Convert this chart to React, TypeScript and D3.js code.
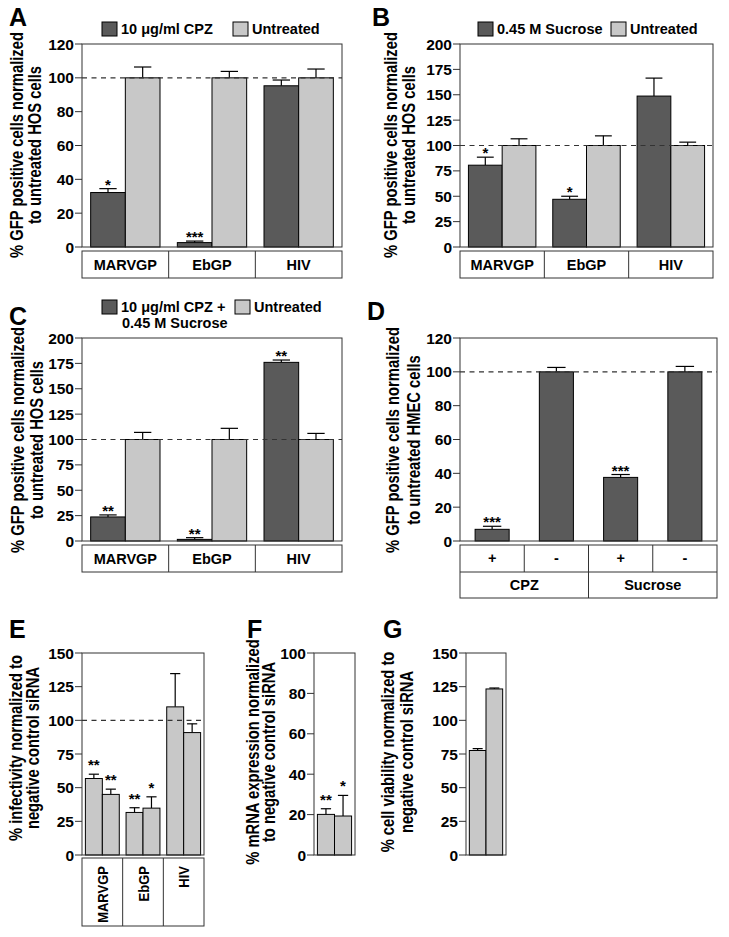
import React from "react";
import * as d3 from "d3";

const W = 729;
const H = 937;
const FONT = "'Liberation Sans', Arial, Helvetica, sans-serif";
const DARK = "#5a5a5a";
const LIGHT = "#c8c8c8";
const AXIS = "#333";

// ---------------- DATA ----------------
const virusGroups = ["MARVGP", "EbGP", "HIV"];

// Panel A
const cpzA = [32.2, 2.6, 95.3];
const cpzAErr = [2.3, 0.9, 3.4];
const untreatedA = [100, 100, 100];
const untreatedAErr = [6.4, 3.8, 5.2];
const starsA = ["*", "***", ""];
const ticksA = [0, 20, 40, 60, 80, 100, 120];

// Panel B
const sucroseB = [80.6, 47, 148.7];
const sucroseBErr = [7.9, 3, 17.7];
const untreatedB = [100, 100, 100];
const untreatedBErr = [6.6, 9.5, 3.3];
const starsB = ["*", "*", ""];
const ticks0to200 = [0, 25, 50, 75, 100, 125, 150, 175, 200];

// Panel C
const comboC = [23.7, 1.6, 176];
const comboCErr = [2, 1.7, 2.3];
const untreatedC = [100, 100, 100];
const untreatedCErr = [7, 11, 6];
const starsC = ["**", "**", "**"];

// Panel D
const hmecConditions = ["+", "-", "+", "-"];
const hmecTreatments = ["CPZ", "Sucrose"];
const hmecD = [6.9, 100, 37.6, 100];
const hmecDErr = [1.8, 2.6, 1.7, 3.2];
const starsD = ["***", "", "***", ""];
const ticks0to120 = [0, 20, 40, 60, 80, 100, 120];

// Panel E
const sirnaE = [56.8, 45, 31.6, 34.8, 110, 90.9];
const sirnaEErr = [3.2, 3.9, 3.5, 8.4, 24.7, 6.5];
const starsE = ["**", "**", "**", "*", "", ""];
const ticks0to150 = [0, 25, 50, 75, 100, 125, 150];

// Panel F
const mrnaF = [20.1, 19.3];
const mrnaFErr = [2.8, 10.2];
const starsF = ["**", "*"];
const ticks0to100 = [0, 20, 40, 60, 80, 100];

// Panel G
const viabilityG = [77.6, 123.3];
const viabilityGErr = [1.4, 0.7];
const starsG = ["", ""];

// ---------------- HELPERS ----------------
type BarSpec = { x: number; w: number; v: number; e: number; fill: string; star: string };

function Bars({ bars, y, starGap, capFrac }: { bars: BarSpec[]; y: d3.ScaleLinear<number, number>; starGap: number; capFrac: number }) {
  return (
    <g>
      {bars.map((b, i) => {
        const cx = b.x + b.w / 2;
        const top = y(b.v);
        const et = y(b.v + b.e);
        const cap = b.w * capFrac;
        return (
          <g key={i}>
            <line x1={cx} x2={cx} y1={top} y2={et} stroke="#000" strokeWidth={1.2} />
            <line x1={cx - cap} x2={cx + cap} y1={et} y2={et} stroke="#000" strokeWidth={1.2} />
            <rect x={b.x} y={top} width={b.w} height={y(0) - top} fill={b.fill} stroke="#000" strokeWidth={1} />
            {b.star && (
              <text x={cx} y={et + starGap} textAnchor="middle" fontSize={15} fontWeight="bold">
                {b.star}
              </text>
            )}
          </g>
        );
      })}
    </g>
  );
}

function Frame({ x0, x1, y, ticks, refLine }: { x0: number; x1: number; y: d3.ScaleLinear<number, number>; ticks: number[]; refLine: boolean }) {
  const [yb, yt] = y.range();
  return (
    <g>
      <rect x={x0} y={yt} width={x1 - x0} height={yb - yt} fill="none" stroke={AXIS} strokeWidth={1} />
      {refLine && (
        <line x1={x0} x2={x1} y1={y(100)} y2={y(100)} stroke="#333" strokeWidth={1.2} strokeDasharray="5,4.5" />
      )}
      {ticks.map((t) => (
        <g key={t}>
          <line x1={x0 - 7} x2={x0} y1={y(t)} y2={y(t)} stroke={AXIS} strokeWidth={1} />
          <text x={x0 - 8} y={y(t) + 5.5} textAnchor="end" fontSize={15.5} fontWeight="bold">
            {t}
          </text>
        </g>
      ))}
    </g>
  );
}

function YLabel({ x1, x2, cy, lines }: { x1: number; x2: number; cy: number; lines: string[] }) {
  return (
    <g fontSize={18} fontWeight="bold">
      <text transform={`translate(${x1},${cy}) rotate(-90) scale(0.82,1)`} textAnchor="middle">
        {lines[0]}
      </text>
      <text transform={`translate(${x2},${cy}) rotate(-90) scale(0.82,1)`} textAnchor="middle">
        {lines[1]}
      </text>
    </g>
  );
}

function Letter({ x, y, t }: { x: number; y: number; t: string }) {
  return (
    <text x={x} y={y} fontSize={25} fontWeight="bold">
      {t}
    </text>
  );
}

function CategoryBox({ x, y0, y1, labels }: { x: d3.ScaleBand<string>; y0: number; y1: number; labels: string[] }) {
  const [r0, r1] = x.range();
  return (
    <g>
      <rect x={r0} y={y0} width={r1 - r0} height={y1 - y0} fill="none" stroke={AXIS} strokeWidth={1} />
      {labels.map((l, i) => (
        <g key={l}>
          {i > 0 && <line x1={x(l)!} x2={x(l)!} y1={y0} y2={y1} stroke={AXIS} strokeWidth={1} />}
          <text x={x(l)! + x.bandwidth() / 2} y={(y0 + y1) / 2 + 5} textAnchor="middle" fontSize={14.5} fontWeight="bold">
            {l}
          </text>
        </g>
      ))}
    </g>
  );
}

function LegendItem({ x, y, fill, lines }: { x: number; y: number; fill: string; lines: string[] }) {
  return (
    <g>
      <rect x={x} y={y} width={15} height={14} fill={fill} stroke="#000" strokeWidth={1} />
      {lines.map((l, i) => (
        <text key={i} x={x + 19} y={y + 12 + i * 16} fontSize={14.5} fontWeight="bold">
          {l}
        </text>
      ))}
    </g>
  );
}

function pairBars(
  xg: d3.ScaleBand<string>,
  darkVals: number[],
  darkErr: number[],
  lightVals: number[],
  lightErr: number[],
  stars: string[],
  darkFill: string,
  lightFill: string
): BarSpec[] {
  const sub = d3.scaleBand().domain(["t", "u"]).range([0, xg.bandwidth()]).paddingOuter(0.25).paddingInner(0);
  const out: BarSpec[] = [];
  xg.domain().forEach((g, i) => {
    out.push({ x: xg(g)! + sub("t")!, w: sub.bandwidth(), v: darkVals[i], e: darkErr[i], fill: darkFill, star: stars[i] });
    out.push({ x: xg(g)! + sub("u")!, w: sub.bandwidth(), v: lightVals[i], e: lightErr[i], fill: lightFill, star: "" });
  });
  return out;
}

// ---------------- APP ----------------
export default function App() {
  // Panel A
  const xA = d3.scaleBand().domain(virusGroups).range([82, 342]);
  const yA = d3.scaleLinear().domain([0, 120]).range([247, 44]);
  const barsA = pairBars(xA, cpzA, cpzAErr, untreatedA, untreatedAErr, starsA, DARK, LIGHT);

  // Panel B
  const xB = d3.scaleBand().domain(virusGroups).range([460, 713]);
  const yB = d3.scaleLinear().domain([0, 200]).range([247, 44]);
  const barsB = pairBars(xB, sucroseB, sucroseBErr, untreatedB, untreatedBErr, starsB, DARK, LIGHT);

  // Panel C
  const xC = d3.scaleBand().domain(virusGroups).range([82, 342]);
  const yC = d3.scaleLinear().domain([0, 200]).range([541, 338]);
  const barsC = pairBars(xC, comboC, comboCErr, untreatedC, untreatedCErr, starsC, DARK, LIGHT);

  // Panel D
  const dKeys = hmecConditions.map((c, i) => `${i}`);
  const xD = d3.scaleBand().domain(dKeys).range([460, 717]).paddingInner(0.47).paddingOuter(0.235);
  const xDcell = d3.scaleBand().domain(dKeys).range([460, 717]);
  const xDtreat = d3.scaleBand().domain(hmecTreatments).range([460, 717]);
  const yD = d3.scaleLinear().domain([0, 120]).range([541, 338]);
  const barsD: BarSpec[] = hmecD.map((v, i) => ({ x: xD(dKeys[i])!, w: xD.bandwidth(), v, e: hmecDErr[i], fill: DARK, star: starsD[i] }));

  // Panel E
  const xE = d3.scaleBand().domain(virusGroups).range([82, 204]);
  const subE = d3.scaleBand().domain(["a", "b"]).range([0, xE.bandwidth()]).paddingOuter(0.2).paddingInner(0);
  const yE = d3.scaleLinear().domain([0, 150]).range([855, 653]);
  const barsE: BarSpec[] = sirnaE.map((v, i) => {
    const g = virusGroups[Math.floor(i / 2)];
    return { x: xE(g)! + subE(i % 2 === 0 ? "a" : "b")!, w: subE.bandwidth(), v, e: sirnaEErr[i], fill: LIGHT, star: starsE[i] };
  });

  // Panel F
  const xF = d3.scaleBand().domain(["a", "b"]).range([314, 355]).paddingOuter(0.2).paddingInner(0);
  const yF = d3.scaleLinear().domain([0, 100]).range([855, 653]);
  const barsF: BarSpec[] = mrnaF.map((v, i) => ({ x: xF(i === 0 ? "a" : "b")!, w: xF.bandwidth(), v, e: mrnaFErr[i], fill: LIGHT, star: starsF[i] }));

  // Panel G
  const xG = d3.scaleBand().domain(["a", "b"]).range([466, 506]).paddingOuter(0.2).paddingInner(0);
  const yG = d3.scaleLinear().domain([0, 150]).range([855, 653]);
  const barsG: BarSpec[] = viabilityG.map((v, i) => ({ x: xG(i === 0 ? "a" : "b")!, w: xG.bandwidth(), v, e: viabilityGErr[i], fill: LIGHT, star: starsG[i] }));

  const labelHOS = ["% GFP positive cells normalized", "to untreated HOS cells"];

  return (
    <svg width={W} height={H} style={{ position: "absolute", left: 0, top: 0, background: "#fff" }} fontFamily={FONT}>
      <rect x={0} y={0} width={W} height={H} fill="#fff" />

      {/* Panel A */}
      <Letter x={9} y={26} t="A" />
      <LegendItem x={102} y={22} fill={DARK} lines={["10 μg/ml CPZ"]} />
      <LegendItem x={233} y={22} fill={LIGHT} lines={["Untreated"]} />
      <YLabel x1={23} x2={41} cy={145} lines={labelHOS} />
      <Bars bars={barsA} y={yA} starGap={1} capFrac={0.25} />
      <Frame x0={82} x1={342} y={yA} ticks={ticksA} refLine />
      <CategoryBox x={xA} y0={251} y1={278} labels={virusGroups} />

      {/* Panel B */}
      <Letter x={372} y={26} t="B" />
      <LegendItem x={478} y={22} fill={DARK} lines={["0.45 M Sucrose"]} />
      <LegendItem x={611} y={22} fill={LIGHT} lines={["Untreated"]} />
      <YLabel x1={397} x2={415} cy={145} lines={labelHOS} />
      <Bars bars={barsB} y={yB} starGap={1} capFrac={0.25} />
      <Frame x0={460} x1={713} y={yB} ticks={ticks0to200} refLine />
      <CategoryBox x={xB} y0={251} y1={278} labels={virusGroups} />

      {/* Panel C */}
      <Letter x={9} y={325} t="C" />
      <LegendItem x={102} y={300} fill={DARK} lines={["10 μg/ml CPZ +"]} />
      <text x={122} y={328} fontSize={14.5} fontWeight="bold">0.45 M Sucrose</text>
      <LegendItem x={235} y={300} fill={LIGHT} lines={["Untreated"]} />
      <YLabel x1={24} x2={43} cy={440} lines={labelHOS} />
      <Bars bars={barsC} y={yC} starGap={1} capFrac={0.25} />
      <Frame x0={82} x1={342} y={yC} ticks={ticks0to200} refLine />
      <CategoryBox x={xC} y0={545} y1={572} labels={virusGroups} />

      {/* Panel D */}
      <Letter x={367} y={320} t="D" />
      <YLabel x1={399} x2={420} cy={440} lines={["% GFP positive cells normalized", "to untreated HMEC cells"]} />
      <Bars bars={barsD} y={yD} starGap={1} capFrac={0.27} />
      <Frame x0={460} x1={717} y={yD} ticks={ticks0to120} refLine />
      <g>
        <rect x={460} y={545} width={257} height={53} fill="none" stroke={AXIS} strokeWidth={1} />
        <line x1={460} x2={717} y1={572} y2={572} stroke={AXIS} strokeWidth={1} />
        {dKeys.map((k, i) => (
          <g key={k}>
            {i > 0 && <line x1={xDcell(k)!} x2={xDcell(k)!} y1={545} y2={572} stroke={AXIS} strokeWidth={1} />}
            <text x={xDcell(k)! + xDcell.bandwidth() / 2} y={563} textAnchor="middle" fontSize={14.5} fontWeight="bold">
              {hmecConditions[i]}
            </text>
          </g>
        ))}
        {hmecTreatments.map((t, i) => (
          <g key={t}>
            {i > 0 && <line x1={xDtreat(t)!} x2={xDtreat(t)!} y1={572} y2={598} stroke={AXIS} strokeWidth={1} />}
            <text x={xDtreat(t)! + xDtreat.bandwidth() / 2} y={590} textAnchor="middle" fontSize={14.5} fontWeight="bold">
              {t}
            </text>
          </g>
        ))}
      </g>

      {/* Panel E */}
      <Letter x={9} y={638} t="E" />
      <YLabel x1={22} x2={39} cy={748} lines={["% infectivity normalized to", "negative control siRNA"]} />
      <Bars bars={barsE} y={yE} starGap={-4} capFrac={0.3} />
      <Frame x0={82} x1={204} y={yE} ticks={ticks0to150} refLine />
      <g>
        <rect x={82} y={858} width={122} height={68} fill="none" stroke={AXIS} strokeWidth={1} />
        {virusGroups.map((g, i) => (
          <g key={g}>
            {i > 0 && <line x1={xE(g)!} x2={xE(g)!} y1={858} y2={926} stroke={AXIS} strokeWidth={1} />}
            <text
              transform={`translate(${xE(g)! + xE.bandwidth() / 2 + 5.5},866) rotate(-90) scale(0.84,1)`}
              textAnchor="end"
              fontSize={15.5}
              fontWeight="bold"
            >
              {g}
            </text>
          </g>
        ))}
      </g>

      {/* Panel F */}
      <Letter x={247} y={638} t="F" />
      <YLabel x1={259} x2={275} cy={752} lines={["% mRNA expression normalized", "to negative control siRNA"]} />
      <Bars bars={barsF} y={yF} starGap={-4} capFrac={0.3} />
      <Frame x0={314} x1={355} y={yF} ticks={ticks0to100} refLine={false} />

      {/* Panel G */}
      <Letter x={383} y={638} t="G" />
      <YLabel x1={394} x2={413} cy={752} lines={["% cell viability normalized to", "negative control siRNA"]} />
      <Bars bars={barsG} y={yG} starGap={-4} capFrac={0.3} />
      <Frame x0={466} x1={506} y={yG} ticks={ticks0to150} refLine={false} />
    </svg>
  );
}
